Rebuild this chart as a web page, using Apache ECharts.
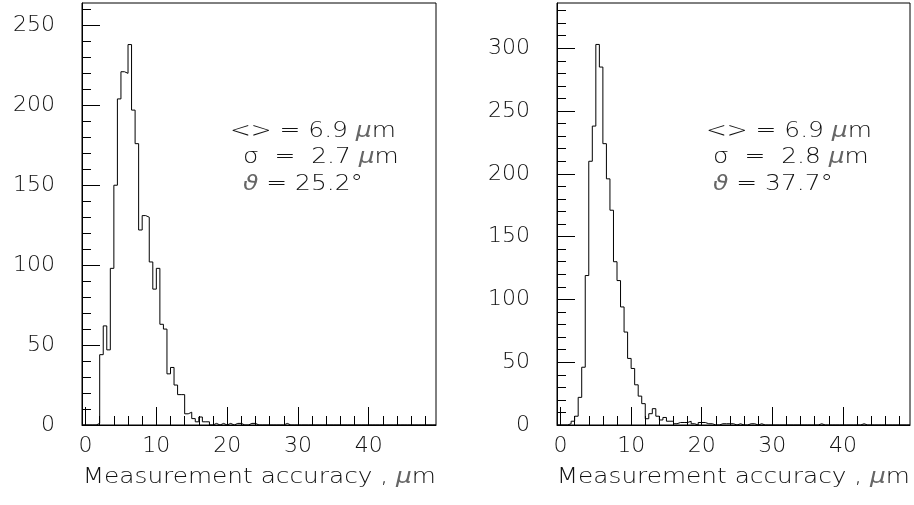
<!DOCTYPE html>
<html><head><meta charset="utf-8">
<script src="https://cdn.jsdelivr.net/npm/echarts@6/dist/echarts.min.js"></script>
<style>html,body{margin:0;padding:0;background:#fff}#c{width:914px;height:505px}</style>
</head><body><div id="c"></div>
<script>
// ---- data ----
const binStart = -0.5;
const binWidth = 0.5;
// counts per 0.5-wide bin, starting at -0.5
const countsLeft = [
  0,0,0,0,1,44,62,47,98,150,
  204,221,220,238,197,176,122,131,130,102,
  85,98,63,60,32,36,25,19,19,7,
  8,4,2,5,2,2,0,1,0,1,
  0,1,0,1,1,0,0,1,1,0,
  0,0,0,0,0,0,0,1,0,0,
  0,0,0,0,0,0,0,0,0,0,
  0,0,0,0,0,0,0,0,0,0,
  0,0,0,0,0,0,0,0,0,0,
  0,0,0,0,0,0,0,0,0,0
];
const countsRight = [
  0,0,0,1,3,7,22,46,119,210,
  238,303,285,224,196,171,130,115,94,74,
  53,45,32,23,17,5,9,13,7,4,
  6,3,3,1,2,2,2,3,1,0,
  2,2,1,1,0,0,1,1,1,1,
  0,1,0,0,1,1,0,1,0,0,
  0,0,0,0,0,0,0,0,0,0,
  0,0,0,0,1,0,0,0,0,0,
  0,0,0,0,0,0,1,0,0,0,
  0,0,0,0,0,0,0,0,0,0
];
const xMajorTicks = [0,10,20,30,40];
const xMinorTicks = [0,2,4,6,8,10,12,14,16,18,20,22,24,26,28,30,32,34,36,38,40,42,44,46,48];
const yMajorLeft = [0,50,100,150,200,250];
const yMinorLeft = [10,20,30,40,60,70,80,90,110,120,130,140,160,170,180,190,210,220,230,240,260];
const yMajorRight = [0,50,100,150,200,250,300];
const yMinorRight = [10,20,30,40,60,70,80,90,110,120,130,140,160,170,180,190,210,220,230,240,260,270,280,290,310,320,330];
// [symbol (italic), text, italic unit part, text]
const statsLeft = [['', '<> = 6.9 ', 'μ', 'm'], ['', 'σ  =  2.7 ', 'μ', 'm'], ['ϑ', ' = 25.2°', '', '']];
const statsRight = [['', '<> = 6.9 ', 'μ', 'm'], ['', 'σ  =  2.8 ', 'μ', 'm'], ['ϑ', ' = 37.7°', '', '']];
const xTitle = ['Measurement accuracy , ', 'μ', 'm'];
const yMaxLeft = 264, yMaxRight = 336;
const xMin = -0.5, xMax = 49.5;

// ---- chart ----
const FONT = 'DejaVu Sans';
const FW = 200;
const TXT = '#111';
function histPoints(counts) {
  const pts = counts.map((c, i) => [binStart + i * binWidth, c]);
  pts.push([binStart + counts.length * binWidth, counts[counts.length - 1]]);
  return pts;
}
const grids = [
  {left: 82, top: 3, width: 354, height: 422},
  {left: 557, top: 3, width: 353, height: 422}
];
function xAx(g, major) {
  return {
    type: 'value', gridIndex: g, min: xMin, max: xMax, position: 'bottom', offset: 0,
    axisLine: {show: major, onZero: false, lineStyle: {color: '#000', width: 1}},
    splitLine: {show: false},
    axisTick: {show: true, inside: true, length: major ? 18 : 9,
      customValues: major ? xMajorTicks : xMinorTicks, lineStyle: {color: '#000', width: 1}},
    axisLabel: major ? {customValues: xMajorTicks, margin: 10, fontFamily: FONT, fontWeight: FW, fontSize: 22, color: TXT} : {show: false}
  };
}
function yAx(g, major, majorT, minorT, max) {
  return {
    type: 'value', gridIndex: g, min: 0, max: max, position: 'left', offset: 0,
    axisLine: {show: major, onZero: false, lineStyle: {color: '#000', width: 1}},
    splitLine: {show: false},
    axisTick: {show: true, inside: true, length: major ? 18 : 9,
      customValues: major ? majorT : minorT, lineStyle: {color: '#000', width: 1}},
    axisLabel: major ? {customValues: majorT, margin: 27, fontFamily: FONT, fontWeight: FW, fontSize: 22, color: TXT} : {show: false}
  };
}
function richStyle() {
  return {
    a: {fontFamily: FONT, fontWeight: FW, fontSize: 21, fill: TXT},
    i: {fontFamily: FONT, fontWeight: 'normal', fontSize: 21, fontStyle: 'italic', fill: '#666'}
  };
}
function richText(parts) {
  let s = '';
  parts.forEach((p, k) => { if (p) s += '{' + (k % 2 === 0 ? 'i' : 'a') + '|' + p + '}'; });
  return s;
}
function statText(lines, xs, ys) {
  return lines.map((l, k) => ({
    type: 'text', x: xs[k], y: ys[k], scaleX: 1.185,
    style: {
      text: richText(l),
      rich: richStyle(),
      fontFamily: FONT, fontWeight: FW, fontSize: 21, fill: TXT, textVerticalAlign: 'top'
    }
  }));
}
function titleText(xr) {
  return {
    type: 'text', x: xr, y: 478, scaleX: 1.18,
    style: {
      text: richText(['', xTitle[0], xTitle[1], xTitle[2]]),
      rich: richStyle(),
      align: 'right', verticalAlign: 'middle', textAlign: 'right', textVerticalAlign: 'middle',
      fontFamily: FONT, fontWeight: FW, fontSize: 21
    }
  };
}
const chart = echarts.init(document.getElementById('c'), null, {renderer: 'canvas'});
chart.setOption({
  animation: false,
  backgroundColor: '#fff',
  grid: grids.map(g => Object.assign({show: true, borderColor: '#000', borderWidth: 1, backgroundColor: 'transparent'}, g)),
  xAxis: [xAx(0, true), xAx(0, false), xAx(1, true), xAx(1, false)],
  yAxis: [
    yAx(0, true, yMajorLeft, yMinorLeft, yMaxLeft), yAx(0, false, yMajorLeft, yMinorLeft, yMaxLeft),
    yAx(1, true, yMajorRight, yMinorRight, yMaxRight), yAx(1, false, yMajorRight, yMinorRight, yMaxRight)
  ],
  series: [
    {type: 'line', xAxisIndex: 0, yAxisIndex: 0, step: 'end', showSymbol: false, symbol: 'none',
      lineStyle: {color: '#000', width: 1}, data: histPoints(countsLeft)},
    {type: 'line', xAxisIndex: 2, yAxisIndex: 2, step: 'end', showSymbol: false, symbol: 'none',
      lineStyle: {color: '#000', width: 1}, data: histPoints(countsRight)}
  ],
  graphic: [].concat(
    statText(statsLeft, [230, 243, 243], [121, 147, 174]),
    statText(statsRight, [706, 713, 713], [121, 147, 174]),
    [titleText(436), titleText(910)]
  )
});
</script></body></html>
